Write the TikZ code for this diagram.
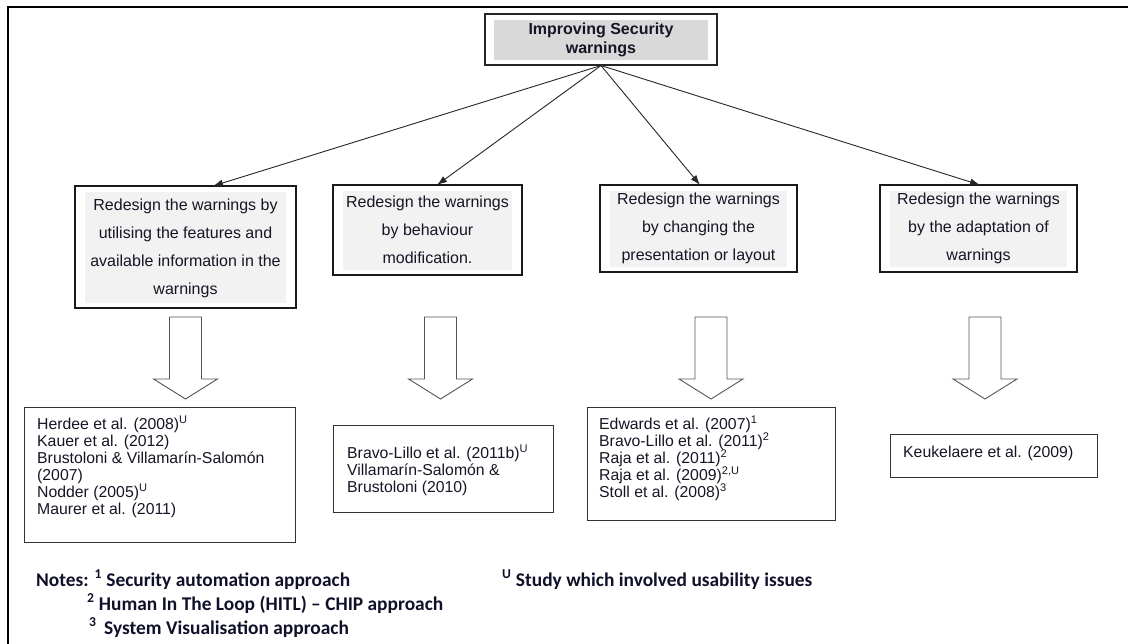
\documentclass[tikz,border=0pt]{standalone}
\usepackage{fontspec}
\setmainfont{Liberation Sans}
\newfontfamily\notefont{Carlito}
\usetikzlibrary{arrows.meta,calc}
\definecolor{topgrey}{HTML}{D9D9D9}
\definecolor{boxgrey}{HTML}{F2F2F2}
\definecolor{arrowgrey}{HTML}{555555}
\definecolor{ink}{HTML}{151525}
\definecolor{notecol}{HTML}{10102A}
\begin{document}
\begin{tikzpicture}[x=1pt,y=-1pt,
  insetfill/.style 2 args={path picture={\fill[#1]
      ([shift={(#2,-6pt)}]path picture bounding box.north west) rectangle
      ([shift={(-#2,5pt)}]path picture bounding box.south east);}},
  topbox/.style={draw=black!85, line width=1.1pt, fill=white, inner sep=0pt,
      align=center, text=ink, font=\bfseries\fontsize{16}{19}\selectfont,
      insetfill={topgrey}{9pt}},
  midbox/.style={draw=black!90, line width=1.2pt, fill=white, inner sep=0pt,
      align=center, text=ink, font=\fontsize{16}{28}\selectfont,
      insetfill={boxgrey}{10pt}},
  refbox/.style={draw=black!80, line width=0.9pt, inner sep=0pt, anchor=north west},
  reftext/.style={inner sep=0pt, anchor=north west, align=left, text=ink,
      font=\fontsize{15.8}{17}\selectfont},
  conn/.style={draw=black!85, line width=0.9pt, -{Latex[length=10pt,width=7pt]}},
  notes/.style={inner sep=0pt, anchor=base west, text=notecol,
      font=\notefont\bfseries\fontsize{19.4}{24}\selectfont},
  arrowline/.style={draw=arrowgrey, line width=0.9pt, fill=white, line join=miter},
  blockarrow/.pic={\path[arrowline] (-16,0) -- (16,0) -- (16,62) -- (32,62) -- (0,82)
      -- (-32,62) -- (-16,62) -- cycle;}
]
\useasboundingbox (0,0) rectangle (1128,644);
% frame
\draw[line width=2.8pt, black] (8,644) -- (8,7) -- (1128,7);

% top node
\node[topbox, minimum width=232pt, minimum height=51pt] (top) at (601,39.5)
  {Improving Security\\warnings};

% level 2
\node[midbox, minimum width=221pt, minimum height=122pt] (b1) at (185.5,247)
  {\raisebox{3pt}{\begin{tabular}{@{}c@{}}Redesign the warnings by\\utilising the features and\\available information in the\\warnings\end{tabular}}};
\node[midbox, minimum width=189pt, minimum height=90pt] (b2) at (427.5,230)
  {Redesign the warnings\\by behaviour\\modification.};
\node[midbox, minimum width=197pt, minimum height=87pt] (b3) at (698.5,228.5)
  {Redesign the warnings\\by changing the\\presentation or layout};
\node[midbox, minimum width=197pt, minimum height=87pt] (b4) at (978.5,228.5)
  {Redesign the warnings\\by the adaptation of\\warnings};

\coordinate (e1) at (213,186);
\coordinate (e2) at (437,185);
\coordinate (e3) at (700,185);
\coordinate (e4) at (980,185);
\draw[conn] (top.south) -- (e1);
\draw[conn] (top.south) -- (e2);
\draw[conn] (top.south) -- (e3);
\draw[conn] (top.south) -- (e4);

% block arrows
\pic at (185.5,317) {blockarrow};
\pic at (440.5,317) {blockarrow};
\pic at (711,317) {blockarrow};
\pic at (985,317) {blockarrow};

% reference boxes
\node[refbox, minimum width=271pt, minimum height=135pt] (rA) at (24,407) {};
\node[reftext] (tA) at (37,416)
  {Herdee et al. (2008)\textsuperscript{U}\\Kauer et al. (2012)\\Brustoloni \& Villamarín-Salomón\\(2007)\\Nodder (2005)\textsuperscript{U}\\Maurer et al. (2011)};
\node[refbox, minimum width=220pt, minimum height=87pt] (rB) at (333,425) {};
\node[reftext] (tB) at (347,445)
  {Bravo-Lillo et al. (2011b)\textsuperscript{U}\\Villamarín-Salomón \&\\Brustoloni (2010)};
\node[refbox, minimum width=248pt, minimum height=113pt] (rC) at (587,407) {};
\node[reftext] (tC) at (599,416)
  {Edwards et al. (2007)\textsuperscript{1}\\Bravo-Lillo et al. (2011)\textsuperscript{2}\\Raja et al. (2011)\textsuperscript{2}\\Raja et al. (2009)\textsuperscript{2,U}\\Stoll et al. (2008)\textsuperscript{3}};
\node[refbox, minimum width=207pt, minimum height=43pt] (rD) at (890,434) {};
\node[reftext] (tD) at (903,445.5)
  {Keukelaere et al. (2009)};

% notes
\node[notes] (n1) at (36,586) {Notes: \textsuperscript{1} Security automation approach};
\node[notes] (n2) at (87,610) {\textsuperscript{2} Human In The Loop (HITL) – CHIP approach};
\node[notes] (n3) at (89,634) {\textsuperscript{3}\, System Visualisation approach};
\node[notes] (n4) at (502,586) {\textsuperscript{U} Study which involved usability issues};
\end{tikzpicture}
\end{document}
